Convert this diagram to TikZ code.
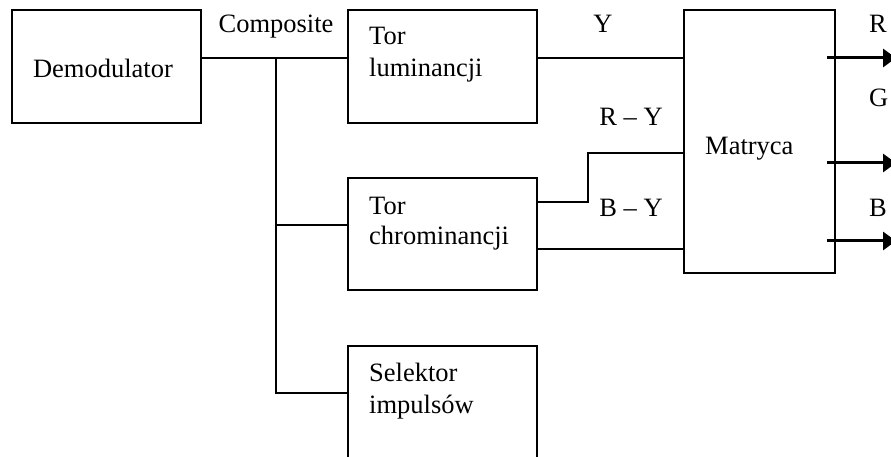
\documentclass[tikz,border=0pt]{standalone}
\usepackage{fontspec}
\setmainfont{Liberation Serif}
\usetikzlibrary{arrows.meta}
\begin{document}
\begin{tikzpicture}[x=1bp,y=-1bp,
  box/.style={draw,line width=1.6bp,inner sep=0,outer sep=0,anchor=north west},
  txt/.style={anchor=base west,inner sep=0,font=\fontsize{26.5bp}{32bp}\selectfont},
  ctxt/.style={anchor=base,inner sep=0,font=\fontsize{26.5bp}{32bp}\selectfont},
  wire/.style={line width=1.6bp},
  outw/.style={line width=3bp,-{Triangle[length=13bp,width=18bp]}}]
\useasboundingbox (0,0) rectangle (891,457);
% boxes
\node[box,minimum width=189bp,minimum height=113bp] (demod) at (12,10) {};
\node[box,minimum width=189bp,minimum height=113bp] (lum) at (348,10) {};
\node[box,minimum width=189bp,minimum height=112bp] (chrom) at (348,178) {};
\node[box,minimum width=151bp,minimum height=263bp] (mat) at (684,10) {};
\node[anchor=north west,inner sep=0,outer sep=0,minimum width=189bp,minimum height=111bp] (sel) at (348,346) {};
\draw[line width=1.6bp] (sel.south west) -- (sel.north west) -- (sel.north east) -- (sel.south east);
% texts
\node[ctxt] (tdemod) at (103,78) {Demodulator};
\node[txt] (tlum1) at (369,45) {Tor};
\node[txt] (tlum2) at (369,77) {luminancji};
\node[txt] (tchr1) at (369,215) {Tor};
\node[txt] (tchr2) at (369,245) {chrominancji};
\node[txt] (tsel1) at (369,382) {Selektor};
\node[txt] (tsel2) at (369,413) {impulsów};
\node[txt] (tmat) at (705,155) {Matryca};
\node[ctxt] (tcomp) at (276,33) {Composite};
\node[ctxt] (ty) at (603,33) {Y};
\node[ctxt] (try) at (631,126) {R – Y};
\node[ctxt] (tby) at (631,217) {B – Y};
\node[txt] (tr) at (869,33) {R};
\node[txt] (tg) at (869,107) {G};
\node[txt] (tb) at (869,217) {B};
% wiring
\coordinate (j1) at (276,58);
\coordinate (j2) at (276,225);
\coordinate (j3) at (276,393);
\coordinate (k1) at (588,202);
\coordinate (k2) at (588,153);
\draw[wire] (demod.east |- j1) -- (lum.west |- j1);
\draw[wire] (j1) -- (j3) -- (sel.west |- j3);
\draw[wire] (j2) -- (chrom.west |- j2);
\draw[wire] (lum.east |- j1) -- (mat.west |- j1);
\draw[wire] (chrom.east |- k1) -- (k1) -- (k2) -- (mat.west |- k2);
\coordinate (b1) at (600,249);
\draw[wire] (chrom.east |- b1) -- (mat.west |- b1);
% outputs
\coordinate (o1) at (896,58);
\coordinate (o2) at (896,163);
\coordinate (o3) at (896,241);
\draw[outw] ([xshift=-8bp]mat.east |- o1) -- (o1);
\draw[outw] ([xshift=-8bp]mat.east |- o2) -- (o2);
\draw[outw] ([xshift=-8bp]mat.east |- o3) -- (o3);
\end{tikzpicture}
\end{document}
